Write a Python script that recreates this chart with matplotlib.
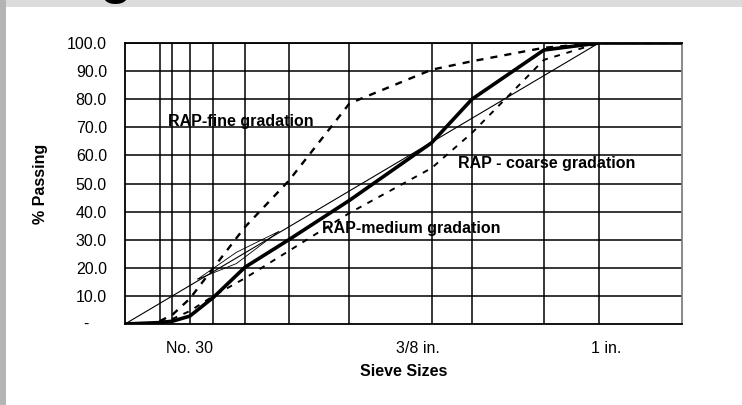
import numpy as np
import matplotlib.pyplot as plt
from matplotlib.patches import Rectangle

plt.rcParams['font.family'] = ['Liberation Sans', 'DejaVu Sans']

# Sieve sizes (mm) and percent passing
sieve_mm = [0.075, 0.15, 0.3, 0.6, 1.18, 2.36, 4.75, 9.5, 12.5, 19.0, 25.0, 37.5]
fine_pass = [1.0, 3.3, 9.0, 20.0, 34.5, 51.0, 78.5, 90.5, 93.5, 98.3, 100.0, 100.0]
medium_pass = [0.5, 1.0, 2.8, 9.5, 20.2, 30.0, 44.0, 64.5, 80.0, 97.5, 100.0, 100.0]
coarse_pass = [0.5, 1.8, 4.6, 10.0, 16.3, 26.0, 39.5, 55.5, 68.0, 94.0, 100.0, 100.0]

# medium curve also starts from the pan
pan_mm = 0.0
pan_pass = 0.0

# maximum density line
max_density_mm = [0.0, 25.0]
max_density_pass = [0.0, 100.0]

# restricted zone outline
zone_mm = [0.39, 1.0, 2.06, 1.0, 0.39]
zone_pass = [16.0, 25.5, 33.0, 21.5, 16.0]

# grid lines and tick labels
grid_mm = [0.075, 0.15, 0.3, 0.6, 1.18, 2.36, 4.75, 9.5, 12.5, 19.0, 25.0]
tick_mm = [0.3, 8.55, 25.9]
tick_labels = ["No. 30", "3/8 in.", "1 in."]
y_ticks = [10, 20, 30, 40, 50, 60, 70, 80, 90, 100]


def p45(d):
    # 0.45 power scale used on gradation charts
    return np.power(np.asarray(d, dtype=float), 0.45)


fig = plt.figure(figsize=(7.42, 4.05), dpi=100)
fig.patch.set_facecolor("#b4b4b4")
# white slide area with grey strips on top and left
fig.patches.append(Rectangle((6 / 742, 0), 1, 1 - 7 / 405, transform=fig.transFigure,
                             facecolor="white", edgecolor="none", zorder=-2))
fig.patches.append(Rectangle((6 / 742, 1 - 7 / 405), 1, 7 / 405, transform=fig.transFigure,
                             facecolor="#dcdcdc", edgecolor="none", zorder=-2))
# bottom of the slide title just shows at the top edge
fig.text(0.156, 1.021, "g", fontsize=44, ha="center", va="baseline", color="black")

ax = fig.add_axes([125 / 742, 1 - 324 / 405, (681.7 - 125) / 742, (324 - 43) / 405])
ax.set_zorder(2)
ax.set_facecolor("white")

for g in grid_mm:
    ax.axvline(p45(g), color="black", lw=1.1, zorder=1)
for yv in y_ticks:
    ax.axhline(yv, color="black", lw=1.1, zorder=1)

# restricted zone and max density line
ax.plot(p45(zone_mm), zone_pass, color="black", lw=0.6, zorder=2)
ax.plot(p45(max_density_mm), max_density_pass, color="black", lw=0.8, zorder=2)

# gradations
ax.plot(p45(sieve_mm), fine_pass, color="black", lw=1.7, ls=(0, (3, 3)), zorder=3)
ax.plot(p45(sieve_mm), coarse_pass, color="black", lw=1.4, ls=(0, (3, 3.5)), zorder=3)
ax.plot(p45([pan_mm] + sieve_mm), [pan_pass] + medium_pass, color="black", lw=2.6, zorder=4)

ax.set_xlim(0, 5.0)
ax.set_ylim(0, 100)

ax.set_yticks(y_ticks)
ax.set_yticklabels([f"{v:.1f}" for v in y_ticks])
ax.set_xticks(p45(tick_mm))
ax.set_xticklabels(tick_labels)
ax.tick_params(axis="both", length=0, labelsize=11.5)
ax.tick_params(axis="y", pad=13)
ax.tick_params(axis="x", pad=12)
ax.text(-0.065, 0, "-", transform=ax.get_yaxis_transform(), ha="right", va="center", fontsize=11.5)

ax.set_xlabel("Sieve Sizes", fontsize=11.5, fontweight="bold", labelpad=6)
ax.set_ylabel("% Passing", fontsize=11.5, fontweight="bold", labelpad=14)

for name, sp in ax.spines.items():
    sp.set_linewidth(1.3)
    sp.set_color("black")
ax.spines["right"].set_color("#808080")

# curve labels
ax.text(p45(0.12), 72, "RAP-fine gradation", fontsize=11.5, fontweight="bold",
        ha="left", va="center", zorder=5)
ax.text(p45(11.4), 57.2, "RAP - coarse gradation", fontsize=11.5, fontweight="bold",
        ha="left", va="center", zorder=5)
ax.text(p45(3.55), 34.1, "RAP-medium gradation", fontsize=11.5, fontweight="bold",
        ha="left", va="center", zorder=5)

fig.savefig("out.png", dpi=100, facecolor=fig.get_facecolor())
